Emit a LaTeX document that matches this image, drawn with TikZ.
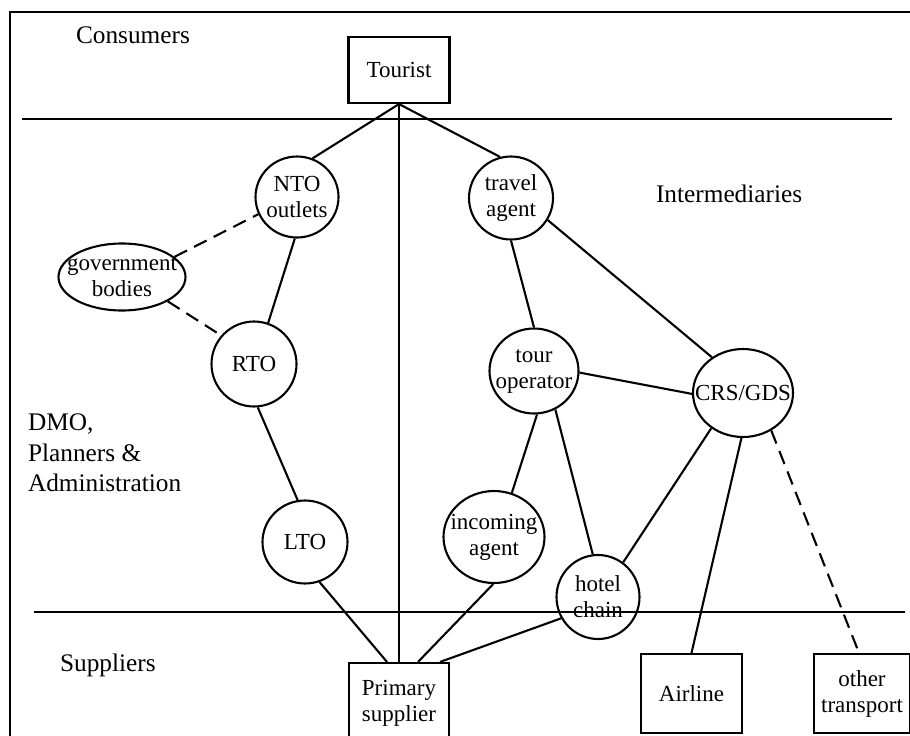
\documentclass[tikz,border=0pt]{standalone}
\usepackage{fontspec}
\setmainfont{Liberation Serif}
\usetikzlibrary{shapes.geometric}

\begin{document}
\begin{tikzpicture}[x=1pt,y=-1pt,line width=2.1pt,
  nodetext/.style={align=center,inner sep=0pt,font=\fontsize{23}{26}\selectfont},
  actor/.style={draw,ellipse,inner sep=0pt,label={[nodetext]center:#1}},
  party/.style={draw,rectangle,nodetext},
  sector/.style={align=left,inner sep=0pt,font=\fontsize{25.3}{30.5}\selectfont},
  weak/.style={dash pattern=on 14pt off 8pt}]
  \useasboundingbox (0,0) rectangle (910,736);
  \clip (0,0) rectangle (910,736);
  % outer frame and the band borders
  \draw (10,12) rectangle (930,760);
  \draw (22,119) -- (892,119);
  \draw (34,612) -- (905,612);
  % band names
  \node[sector,anchor=base west] (consumers) at (75,43) {Consumers};
  \node[sector,anchor=base west] (intermediaries) at (655,202) {Intermediaries};
  \node[sector,anchor=north west] (dmo) at (27,413) {DMO,\\Planners \&\\Administration};
  \node[sector,anchor=base west] (suppliers) at (59,671) {Suppliers};
  % consumers and suppliers
  \node[party,minimum width=101pt,minimum height=66pt] (tourist) at (399,70) {Tourist};
  \node[party,minimum width=100pt,minimum height=80pt] (primary) at (399,703) {Primary\\supplier};
  \node[party,minimum width=101pt,minimum height=79pt] (airline) at (691.5,693.5) {Airline};
  \node[party,minimum width=96pt,minimum height=79pt] (other) at (862,693.5) {other\\transport};
  % destination side
  \node[actor={NTO\\outlets},minimum width=83pt,minimum height=81pt] (nto) at (297,197) {};
  \node[actor={government\\bodies},minimum width=127pt,minimum height=67pt] (gov) at (122,277) {};
  \node[actor={RTO},minimum width=85pt,minimum height=85pt] (rto) at (254,364) {};
  \node[actor={LTO},minimum width=85pt,minimum height=83pt] (lto) at (305,542) {};
  % trade side
  \node[actor={travel\\agent},minimum width=84pt,minimum height=83pt] (travel) at (511,198) {};
  \node[actor={tour\\operator},minimum width=89pt,minimum height=85pt] (tour) at (534,371) {};
  \node[actor={CRS/GDS},minimum width=100pt,minimum height=88pt] (crs) at (743,393) {};
  \node[actor={incoming\\agent},minimum width=101pt,minimum height=92pt] (incoming) at (494,537) {};
  \node[actor={hotel\\chain},minimum width=83pt,minimum height=84pt] (hotel) at (598,597) {};
  % links
  \draw (tourist.south) -- (nto.68);
  \draw (tourist.south) -- (travel.105);
  \draw (tourist.south) -- (primary.north);
  \draw (nto.-93) -- (rto.71);
  \draw[weak] (gov.21) -- (nto.204);
  \draw[weak] (gov.-28) -- (rto.139);
  \draw (rto.-85) -- (lto.100);
  \draw (lto.-70) -- ([xshift=-12pt]primary.north);
  \draw (travel.-90) -- (tour.90);
  \draw (travel.-31) -- (crs.131);
  \draw (tour.-2) -- (crs.181);
  \draw (tour.-86) -- (incoming.68);
  \draw (tour.-61) -- (hotel.97);
  \draw (crs.-132) -- (hotel.54);
  \draw (crs.-92) -- (airline.north);
  \draw[weak] (crs.-53) -- ([xshift=-3pt]other.north);
  \draw (incoming.-91) -- ([xshift=19pt]primary.north);
  \draw (hotel.210) -- ([xshift=41pt]primary.north);
\end{tikzpicture}
\end{document}
